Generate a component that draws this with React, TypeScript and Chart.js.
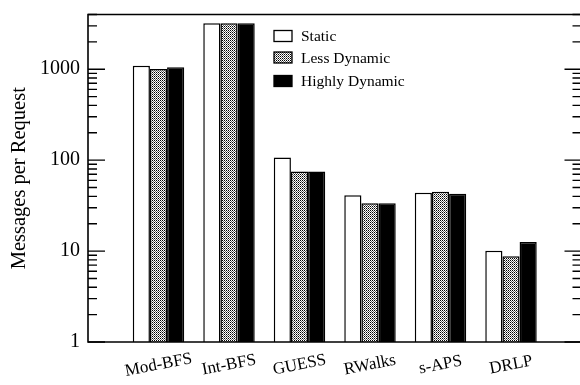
import React, { useEffect, useRef } from "react";
import { Chart, registerables } from "chart.js";

Chart.register(...registerables);

const categories = ["Mod-BFS", "Int-BFS", "GUESS", "RWalks", "s-APS", "DRLP"];
const seriesNames = ["Static", "Less Dynamic", "Highly Dynamic"];
const staticValues = [1090, 3200, 107, 41, 43.7, 10.1];
const lessDynamicValues = [1005, 3200, 75, 33.5, 44.8, 8.8];
const highlyDynamicValues = [1050, 3200, 75, 33.5, 42.6, 12.6];
const yMajorTicks = [1, 10, 100, 1000];
const yMin = 1;
const yMax = 4000;

const FONT = '"Liberation Serif", "Times New Roman", serif';

function makePattern(): CanvasPattern | string {
  const c = document.createElement("canvas");
  c.width = 2;
  c.height = 2;
  const g = c.getContext("2d");
  if (!g) return "#999";
  g.fillStyle = "#fff";
  g.fillRect(0, 0, 2, 2);
  g.fillStyle = "#000";
  g.fillRect(0, 0, 1, 1);
  g.fillStyle = "#666";
  g.fillRect(1, 1, 1, 1);
  const p = g.createPattern(c, "repeat");
  return p || "#999";
}

function minorTicks(): number[] {
  const out: number[] = [];
  for (let d = 1; d <= 1000; d *= 10) {
    for (let k = 1; k <= 9; k++) {
      const v = k * d;
      if (v <= yMax) out.push(v);
    }
  }
  return out;
}

const framePlugin = {
  id: "framePlugin",
  afterDraw(chart: any) {
    const ctx = chart.ctx as CanvasRenderingContext2D;
    const a = chart.chartArea;
    const y = chart.scales.y;
    const x = chart.scales.x;
    ctx.save();
    ctx.strokeStyle = "#000";
    ctx.lineWidth = 1.6;
    ctx.beginPath();
    ctx.rect(a.left, a.top, a.right - a.left, a.bottom - a.top);
    ctx.stroke();
    ctx.lineWidth = 1.4;
    for (const v of minorTicks()) {
      const py = y.getPixelForValue(v);
      const major = yMajorTicks.includes(v);
      const len = major ? 17 : 9;
      ctx.beginPath();
      ctx.moveTo(a.left, py);
      ctx.lineTo(a.left + len, py);
      ctx.moveTo(a.right, py);
      ctx.lineTo(a.right - len, py);
      ctx.stroke();
    }
    ctx.fillStyle = "#000";
    ctx.font = `17px ${FONT}`;
    ctx.textAlign = "center";
    ctx.textBaseline = "middle";
    categories.forEach((c, i) => {
      const px = x.getPixelForValue(i + 1);
      ctx.save();
      ctx.translate(px, a.bottom + 23);
      ctx.rotate((-11 * Math.PI) / 180);
      ctx.fillText(c, 0, 0);
      ctx.restore();
    });
    ctx.save();
    ctx.font = `20.5px ${FONT}`;
    ctx.translate(20, (a.top + a.bottom) / 2);
    ctx.rotate(-Math.PI / 2);
    ctx.fillText("Messages per Request", 0, 0);
    ctx.restore();
    const ds = chart.data.datasets;
    ctx.font = `15.5px ${FONT}`;
    ctx.textAlign = "left";
    const ys = [36, 57.5, 81];
    ds.forEach((d: any, i: number) => {
      const cy = ys[i];
      ctx.fillStyle = d.backgroundColor;
      ctx.fillRect(274, cy - 5.5, 18, 11);
      ctx.lineWidth = 1.3;
      ctx.strokeStyle = "#000";
      ctx.strokeRect(274, cy - 5.5, 18, 11);
      ctx.fillStyle = "#000";
      ctx.fillText(d.label, 301, cy + 1);
    });
    ctx.restore();
  },
};

export default function App() {
  const ref = useRef<HTMLCanvasElement | null>(null);
  useEffect(() => {
    if (!ref.current) return;
    const pattern = makePattern();
    const labels = ["", ...categories, ""];
    const pad = (arr: number[]) => [null, ...arr, null];
    const chart = new Chart(ref.current, {
      type: "bar",
      data: {
        labels,
        datasets: [
          { label: seriesNames[0], data: pad(staticValues), backgroundColor: "#fff", borderColor: "#000", borderWidth: 1.5 },
          { label: seriesNames[1], data: pad(lessDynamicValues), backgroundColor: pattern as any, borderColor: "#000", borderWidth: 1.5 },
          { label: seriesNames[2], data: pad(highlyDynamicValues), backgroundColor: "#000", borderColor: "#000", borderWidth: 1.5 },
        ],
      },
      options: {
        responsive: false,
        animation: false,
        devicePixelRatio: 1,
        layout: { padding: { top: 14.5, right: 10.5, left: 0, bottom: 0 } },
        datasets: { bar: { categoryPercentage: 0.73, barPercentage: 1 } },
        plugins: { legend: { display: false }, tooltip: { enabled: false } },
        scales: {
          x: {
            type: "category",
            offset: false,
            grid: { display: false },
            border: { display: false },
            ticks: { display: false },
            afterFit(s: any) {
              s.height = 43;
              s.paddingLeft = 0;
              s.paddingRight = 0;
            },
          },
          y: {
            type: "logarithmic",
            min: yMin,
            max: yMax,
            grid: { display: false, drawTicks: false, tickLength: 0 },
            border: { display: false },
            afterBuildTicks(s: any) {
              s.ticks = yMajorTicks.map((v) => ({ value: v }));
            },
            ticks: {
              autoSkip: false,
              padding: 8,
              color: "#000",
              font: { family: FONT, size: 20 },
              callback: (v: any) => String(v),
            },
            afterFit(s: any) {
              s.width = 88;
              s.paddingTop = 0;
              s.paddingBottom = 0;
            },
          },
        },
      } as any,
      plugins: [framePlugin],
    });
    return () => chart.destroy();
  }, []);
  return (
    <div style={{ position: "fixed", left: 0, top: 0, width: 580, height: 385, overflow: "hidden", background: "#fff" }}>
      <canvas ref={ref} width={592} height={385} style={{ width: 592, height: 385, display: "block" }} />
    </div>
  );
}
